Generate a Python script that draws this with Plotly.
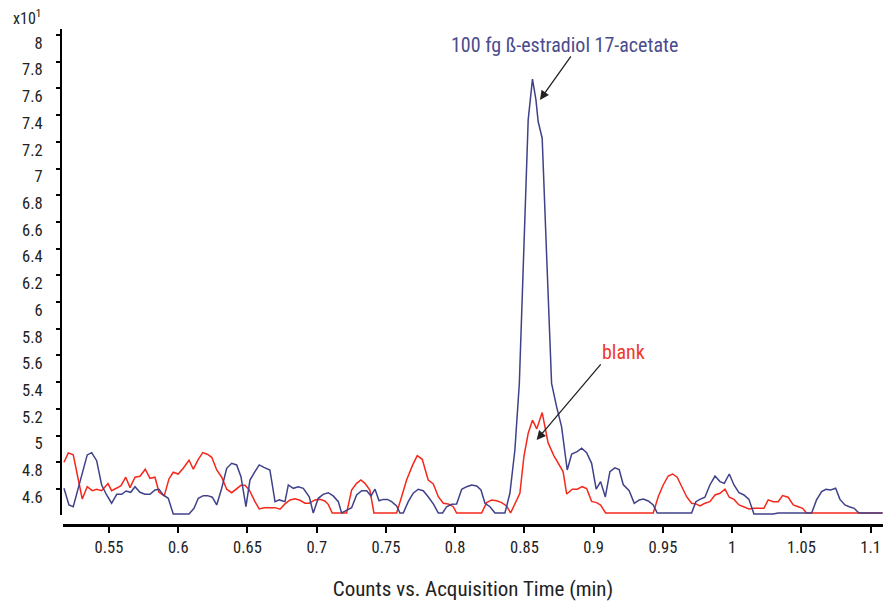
import plotly.graph_objects as go

# Sample (blue) trace: 100 fg beta-estradiol 17-acetate
sample_time = [0.5175, 0.5211, 0.5242, 0.5278, 0.531, 0.5343, 0.5375, 0.5411, 0.5447, 0.5483,
               0.5519, 0.5556, 0.5592, 0.5623, 0.5657, 0.5688, 0.5724, 0.576, 0.5796, 0.5832,
               0.5861, 0.5892, 0.5928, 0.5964, 0.6078, 0.6114, 0.6145, 0.6181, 0.6212, 0.6246,
               0.6278, 0.6314, 0.635, 0.6386, 0.6422, 0.6453, 0.6489, 0.6518, 0.6554, 0.6585,
               0.6619, 0.6662, 0.6699, 0.673, 0.6771, 0.6795, 0.6831, 0.6867, 0.6903, 0.6946,
               0.6975, 0.7011, 0.7047, 0.7083, 0.7119, 0.7156, 0.718, 0.7228, 0.7252, 0.7288,
               0.7325, 0.7361, 0.7392, 0.7421, 0.745, 0.7481, 0.751, 0.7541, 0.7577, 0.7601,
               0.7625, 0.7661, 0.7697, 0.7733, 0.7769, 0.7805, 0.7842, 0.7878, 0.7909, 0.7938,
               0.7974, 0.801, 0.8047, 0.8083, 0.8119, 0.8155, 0.8186, 0.8215, 0.8251, 0.8287,
               0.8359, 0.8395, 0.8431, 0.8463, 0.8496, 0.8527, 0.8558, 0.8583, 0.8599, 0.8628,
               0.8662, 0.8696, 0.8732, 0.8768, 0.8809, 0.8841, 0.8881, 0.8913, 0.8949, 0.8985,
               0.9018, 0.905, 0.9084, 0.9117, 0.9153, 0.9184, 0.9213, 0.9256, 0.9293, 0.9329,
               0.9358, 0.9394, 0.943, 0.9459, 0.9707, 0.9738, 0.9767, 0.9803, 0.9839, 0.9876,
               0.9912, 0.9943, 0.9979, 1.0013, 1.0049, 1.0085, 1.0121, 1.0157, 1.0296, 1.0332,
               1.0574, 1.0609, 1.0646, 1.0677, 1.0711, 1.0747, 1.0778, 1.0814, 1.0845, 1.0881,
               1.0915, 1.1086]
sample_counts = [4.605, 4.48, 4.467, 4.605, 4.742, 4.855, 4.872, 4.812, 4.63, 4.555,
                 4.493, 4.56, 4.56, 4.585, 4.575, 4.617, 4.575, 4.56, 4.56, 4.592,
                 4.598, 4.555, 4.53, 4.413, 4.413, 4.455, 4.53, 4.55, 4.55, 4.538,
                 4.48, 4.605, 4.755, 4.792, 4.78, 4.692, 4.467, 4.667, 4.73, 4.78,
                 4.762, 4.742, 4.505, 4.518, 4.505, 4.63, 4.605, 4.617, 4.605, 4.542,
                 4.42, 4.53, 4.56, 4.572, 4.548, 4.505, 4.42, 4.448, 4.46, 4.555,
                 4.587, 4.587, 4.548, 4.598, 4.512, 4.522, 4.522, 4.505, 4.473, 4.42,
                 4.42, 4.505, 4.568, 4.598, 4.587, 4.542, 4.488, 4.42, 4.42, 4.467,
                 4.485, 4.488, 4.598, 4.617, 4.63, 4.622, 4.592, 4.493, 4.467, 4.42,
                 4.42, 4.568, 4.892, 5.39, 6.38, 7.364, 7.669, 7.514, 7.352, 7.227,
                 6.3, 5.39, 5.217, 5.067, 4.742, 4.862, 4.88, 4.905, 4.872, 4.792,
                 4.598, 4.655, 4.54, 4.73, 4.758, 4.745, 4.633, 4.587, 4.493, 4.518,
                 4.525, 4.51, 4.48, 4.42, 4.42, 4.505, 4.522, 4.538, 4.63, 4.697,
                 4.655, 4.642, 4.712, 4.63, 4.572, 4.555, 4.522, 4.413, 4.413, 4.42,
                 4.42, 4.518, 4.58, 4.598, 4.592, 4.605, 4.522, 4.48, 4.467, 4.455,
                 4.42, 4.42]

# Blank (red) trace
blank_time = [0.5175, 0.5206, 0.5242, 0.5274, 0.5307, 0.5343, 0.5379, 0.5411, 0.5447, 0.5493,
              0.5519, 0.5556, 0.5587, 0.5621, 0.5652, 0.5688, 0.5724, 0.5762, 0.5796, 0.5832,
              0.5861, 0.5899, 0.5933, 0.5964, 0.6, 0.6036, 0.6078, 0.6109, 0.6145, 0.6177,
              0.621, 0.6242, 0.6278, 0.6314, 0.635, 0.6386, 0.6422, 0.6453, 0.6482, 0.6513,
              0.6554, 0.6585, 0.6621, 0.6662, 0.6699, 0.6735, 0.6771, 0.6807, 0.6843, 0.6879,
              0.6915, 0.6946, 0.6987, 0.7023, 0.7059, 0.7083, 0.7112, 0.7216, 0.7252, 0.7288,
              0.7319, 0.7348, 0.7384, 0.7413, 0.7577, 0.7613, 0.7649, 0.7693, 0.7726, 0.7762,
              0.7805, 0.7842, 0.7878, 0.7914, 0.795, 0.7986, 0.801, 0.8191, 0.8227, 0.8263,
              0.8299, 0.8335, 0.8371, 0.84, 0.8467, 0.8496, 0.8527, 0.8558, 0.8589, 0.8628,
              0.8671, 0.8712, 0.875, 0.8779, 0.8805, 0.8846, 0.8881, 0.8917, 0.8949, 0.8985,
              0.9021, 0.905, 0.9086, 0.943, 0.9466, 0.9502, 0.9538, 0.957, 0.9603, 0.9635,
              0.9671, 0.9707, 0.9738, 0.9767, 0.9803, 0.9839, 0.9876, 0.9912, 0.9948, 0.9979,
              1.0013, 1.0049, 1.0085, 1.0121, 1.0157, 1.0193, 1.0229, 1.026, 1.0296, 1.0332,
              1.0364, 1.0404, 1.0441, 1.0477, 1.0508, 1.0537, 1.1086]
blank_counts = [4.80, 4.87, 4.855, 4.70, 4.525, 4.617, 4.587, 4.598, 4.587, 4.64,
                4.587, 4.607, 4.625, 4.688, 4.61, 4.688, 4.695, 4.748, 4.68, 4.688,
                4.575, 4.548, 4.675, 4.725, 4.712, 4.755, 4.815, 4.748, 4.822, 4.872,
                4.86, 4.837, 4.742, 4.688, 4.598, 4.572, 4.60, 4.627, 4.627, 4.592,
                4.505, 4.45, 4.46, 4.46, 4.46, 4.448, 4.488, 4.518, 4.527, 4.515,
                4.493, 4.493, 4.518, 4.522, 4.51, 4.485, 4.42, 4.42, 4.592, 4.642,
                4.667, 4.642, 4.592, 4.42, 4.42, 4.542, 4.667, 4.78, 4.85, 4.822,
                4.667, 4.637, 4.542, 4.493, 4.488, 4.467, 4.42, 4.42, 4.498, 4.518,
                4.512, 4.498, 4.473, 4.42, 4.568, 4.842, 5.017, 5.115, 5.05, 5.172,
                4.945, 4.85, 4.78, 4.73, 4.562, 4.598, 4.598, 4.617, 4.603, 4.507,
                4.498, 4.48, 4.42, 4.42, 4.542, 4.63, 4.697, 4.712, 4.688, 4.622,
                4.542, 4.493, 4.488, 4.473, 4.493, 4.505, 4.555, 4.568, 4.598, 4.538,
                4.522, 4.48, 4.467, 4.45, 4.455, 4.455, 4.455, 4.518, 4.505, 4.505,
                4.55, 4.538, 4.48, 4.467, 4.455, 4.42, 4.42]

x_ticks = [0.55, 0.6, 0.65, 0.7, 0.75, 0.8, 0.85, 0.9, 0.95, 1.0, 1.05, 1.1]
x_ticktext = ["0.55", "0.6", "0.65", "0.7", "0.75", "0.8", "0.85", "0.9", "0.95", "1", "1.05", "1.1"]
y_ticks = [4.6, 4.8, 5.0, 5.2, 5.4, 5.6, 5.8, 6.0, 6.2, 6.4, 6.6, 6.8, 7.0, 7.2, 7.4, 7.6, 7.8, 8.0]
y_ticktext = ["4.6", "4.8", "5", "5.2", "5.4", "5.6", "5.8", "6", "6.2", "6.4", "6.6", "6.8",
              "7", "7.2", "7.4", "7.6", "7.8", "8"]

BLUE = "#3f4189"
RED = "#f5281c"
FONT = "Liberation Sans Narrow, Roboto Condensed, Arial Narrow, Roboto, sans-serif"

fig = go.Figure()
fig.add_trace(go.Scatter(x=blank_time, y=blank_counts, mode="lines",
                         line=dict(color=RED, width=1.5), name="blank"))
fig.add_trace(go.Scatter(x=sample_time, y=sample_counts, mode="lines",
                         line=dict(color=BLUE, width=1.5), name="sample"))

W, H = 883, 602
L, R, T, B = 61, 0, 29, 77
plot_h = H - T - B

fig.update_layout(
    width=W, height=H,
    margin=dict(l=L, r=R, t=T, b=B),
    paper_bgcolor="white", plot_bgcolor="white",
    showlegend=False,
    font=dict(family=FONT, size=16.5, color="#222222"),
    xaxis=dict(
        domain=[2 / (W - L - R), 1],
        range=[0.5168, 1.1089],
        anchor="free", position=0,
        tickvals=x_ticks, ticktext=x_ticktext,
        ticks="outside", ticklen=6, tickwidth=2, tickcolor="black",
        showline=True, linecolor="black", linewidth=2.5,
        showgrid=False, zeroline=False,
        tickfont=dict(size=16.5, color="#222222"),
        title=dict(text="Counts vs. Acquisition Time (min)",
                   font=dict(size=21, color="#222222"), standoff=25),
    ),
    yaxis=dict(
        domain=[10 / plot_h, 1],
        range=[4.405, 8.045],
        anchor="free", position=0,
        tickvals=y_ticks, ticktext=y_ticktext,
        ticks="outside", ticklen=4, tickwidth=2, tickcolor="black",
        showline=True, linecolor="black", linewidth=2,
        showgrid=False, zeroline=False,
        tickfont=dict(size=16.5, color="#222222"),
        ticklabelstandoff=10,
        ticklabelshift=8,
    ),
)

# x10^1 multiplier label
fig.add_annotation(text="x10<sup>1</sup>", xref="paper", yref="paper",
                   x=(11 - L) / (W - L - R), y=(H - B - 18) / plot_h,
                   xanchor="left", yanchor="middle", showarrow=False,
                   font=dict(size=16, color="#222222"))

# Labels
fig.add_annotation(text="100 fg ß-estradiol 17-acetate", x=0.8792, y=7.926,
                   xref="x", yref="y", showarrow=False,
                   font=dict(size=20, color="#4b4c8c"))
fig.add_annotation(text="blank", x=0.9212, y=5.626, xref="x", yref="y",
                   showarrow=False, font=dict(size=20, color="#ee3a2a"))

# Arrows
fig.add_annotation(text="", x=0.8612, y=7.514, ax=0.8843, ay=7.851,
                   xref="x", yref="y", axref="x", ayref="y",
                   showarrow=True, arrowhead=2, arrowsize=1.4, arrowwidth=1.3,
                   arrowcolor="#222222")
fig.add_annotation(text="", x=0.8588, y=4.967, ax=0.906, ay=5.544,
                   xref="x", yref="y", axref="x", ayref="y",
                   showarrow=True, arrowhead=2, arrowsize=1.4, arrowwidth=1.3,
                   arrowcolor="#222222")

fig.write_html("out.html")
